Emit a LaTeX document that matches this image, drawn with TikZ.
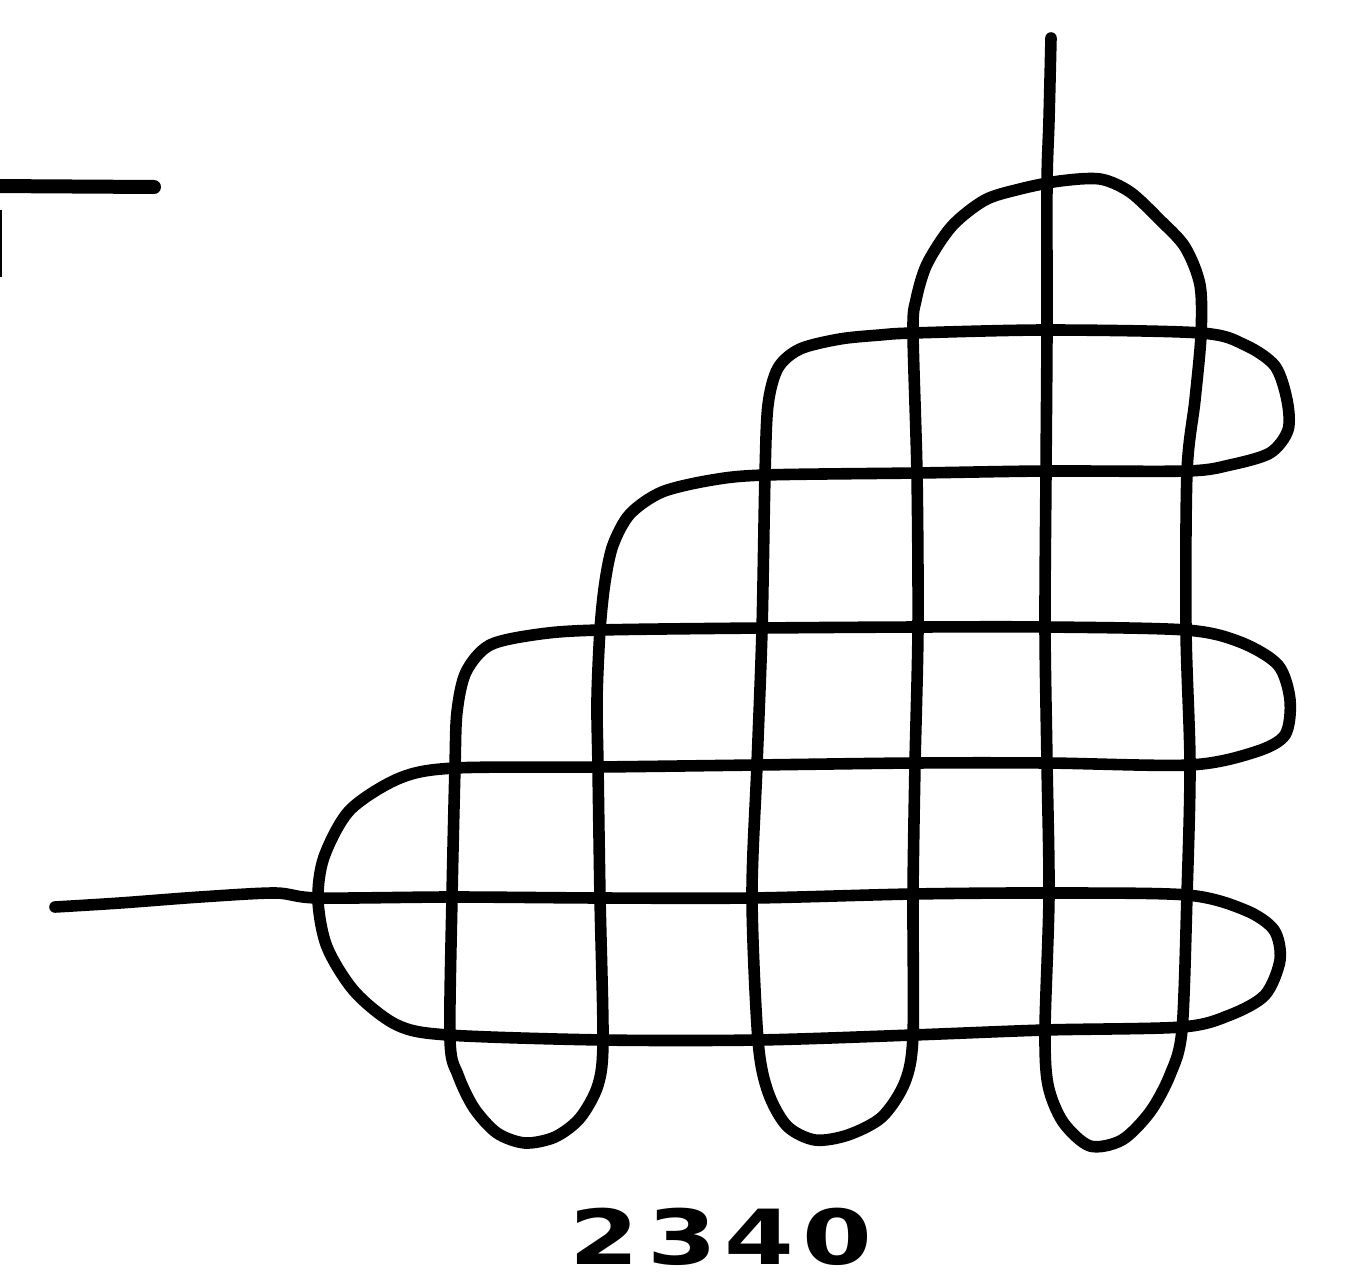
\documentclass[tikz,border=0pt]{standalone}
\usepackage{fontspec}
\newfontfamily\labelfont{DejaVu Sans}
\begin{document}
\begin{tikzpicture}[x=0.5pt,y=-0.5pt,
  knot/.style={line width=5.8pt, line cap=round, line join=round},
  thickmark/.style={line width=7pt, line cap=round},
  thinmark/.style={line width=1pt},
  figlabel/.style={font=\labelfont\bfseries\fontsize{38}{45}\selectfont, xscale=1.32, anchor=base, inner sep=0pt}]
\useasboundingbox (0,0) rectangle (1356,1284);
% corner mark
\coordinate (m0) at (-10,186);
\coordinate (m1) at (154,187);
\draw[thickmark] (m0) -- (m1);
\coordinate (t0) at (0.5,210);
\coordinate (t1) at (0.5,277);
\draw[thinmark] (t0) -- (t1);
% the knot
\draw[knot] plot[smooth, tension=0.5] coordinates {
  (1051,38) (1049,120) (1047,185) (1047,330) (1046,472) (1045,627) (1047,763) (1049,895) (1045,1030)
  (1048,1085) (1063,1122) (1090,1146) (1122,1140) (1150,1112) (1170,1075) (1182,1030)
  (1187,895) (1190,765) (1186,630) (1187,472) (1195,400) (1201,335) (1200,285)
  (1185,247) (1160,220) (1130,192) (1100,179) (1060,181) (1020,189) (985,200) (952,226) (927,264) (916,300) (913,332)
  (917,475) (918,628) (915,765) (913,895) (913,1035)
  (905,1082) (882,1117) (848,1135) (815,1140) (787,1126) (768,1092) (758,1040)
  (752,897) (757,765) (762,630) (765,475) (768,405)
  (778,368) (800,349) (840,339) (880,335) (913,333)
  (1047,330) (1201,333)
  (1245,345) (1275,366) (1287,400) (1288,430) (1270,453) (1230,465) (1187,471)
  (1046,471) (917,473) (765,475)
  (712,480) (662,492) (630,514) (613,545) (605,582) (600,630)
  (597,700) (598,767) (600,897) (603,1040)
  (598,1085) (580,1118) (555,1137) (525,1143) (497,1133) (474,1108) (458,1075) (450,1040)
  (452,897) (455,767)
  (457,712) (466,672) (490,645) (540,634) (600,630)
  (762,628) (918,627) (1045,627) (1186,630)
  (1240,642) (1278,665) (1290,700) (1285,735) (1255,752) (1190,765)
  (1047,763) (915,763) (757,765) (598,767) (455,768)
  (400,778) (350,810) (324,857) (318,900) (327,947) (355,992) (397,1025) (448,1035)
  (603,1040) (758,1040) (913,1035) (1045,1030) (1182,1027)
  (1230,1015) (1265,995) (1280,960) (1274,930) (1245,910) (1187,895)
  (1049,893) (913,894) (752,898) (600,898) (452,897) (318,898) (275,893) (200,897) (120,903) (55,907)
};
\node[figlabel] (label) at (721,1264) {2\hspace{3pt}3\hspace{3pt}4\hspace{3pt}0};
\end{tikzpicture}
\end{document}
